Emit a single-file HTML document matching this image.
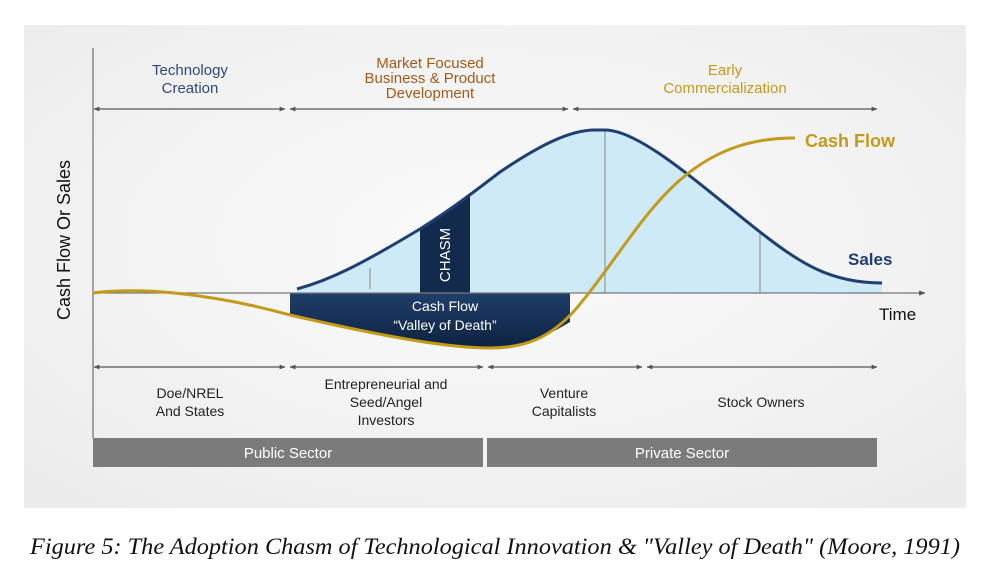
<!DOCTYPE html>
<html><head><meta charset="utf-8"><style>
html,body{margin:0;padding:0;background:#fff;width:996px;height:584px;overflow:hidden}
svg{display:block}
</style></head><body>
<svg width="996" height="584" viewBox="0 0 996 584" xmlns="http://www.w3.org/2000/svg" font-family="Liberation Sans, sans-serif">
<defs>
<radialGradient id="bg" cx="0.5" cy="0.45" r="0.7"><stop offset="0" stop-color="#fbfbfb"/><stop offset="1" stop-color="#ececec"/></radialGradient>
<linearGradient id="vd" x1="0" y1="0" x2="0" y2="1"><stop offset="0" stop-color="#1f3f6a"/><stop offset="1" stop-color="#0d2240"/></linearGradient>
<marker id="ar" viewBox="0 0 10 10" refX="9" refY="5" markerWidth="5" markerHeight="5" orient="auto-start-reverse"><path d="M0,1 L10,5 L0,9z" fill="#555"/></marker>
</defs>
<rect x="24" y="25" width="942" height="483" fill="url(#bg)"/>
<path d="M297,289 C330,280 360,265 420,229 C450,210 470,195 500,172 C540,145 570,130 595,130 L605,130 C640,130 700,185 760,232 C800,263 830,283 882,283 L882,293 L297,293 Z" fill="#cdeaf6"/>
<path d="M420,229 C440,217 455,206 470,195 L470,293 L420,293Z" fill="#122a4c"/>
<line x1="370" y1="268" x2="370" y2="289" stroke="#888" stroke-width="1"/>
<line x1="605" y1="130" x2="605" y2="293" stroke="#888" stroke-width="1"/>
<line x1="760" y1="232" x2="760" y2="293" stroke="#888" stroke-width="1"/>
<path d="M290,293 L570,293 L570,322 C540,340 520,348 490,348 C450,348 390,338 290,315 Z" fill="url(#vd)"/>
<line x1="93" y1="48" x2="93" y2="438" stroke="#777" stroke-width="1.3"/>
<line x1="93" y1="293" x2="925" y2="293" stroke="#777" stroke-width="1.3" marker-end="url(#ar)"/>
<path d="M297,289 C330,280 360,265 420,229 C450,210 470,195 500,172 C540,145 570,130 595,130 L605,130 C640,130 700,185 760,232 C800,263 830,283 882,283" fill="none" stroke="#1f3f73" stroke-width="3"/>
<path d="M93,293 C140,287 210,293 290,315 C390,338 450,348 490,348 C525,348 550,338 575,310 C610,270 640,215 680,180 C720,145 760,138 795,138" fill="none" stroke="#c49a1a" stroke-width="3"/>
<g stroke="#555" stroke-width="1.2" marker-start="url(#ar)" marker-end="url(#ar)">
<line x1="94" y1="109" x2="285" y2="109"/><line x1="290" y1="109" x2="568" y2="109"/><line x1="573" y1="109" x2="877" y2="109"/>
<line x1="94" y1="367" x2="285" y2="367"/><line x1="290" y1="367" x2="483" y2="367"/><line x1="488" y1="367" x2="642" y2="367"/><line x1="647" y1="367" x2="877" y2="367"/>
</g>
<rect x="93" y="438" width="390" height="29" fill="#7b7b7b"/>
<rect x="487" y="438" width="390" height="29" fill="#7b7b7b"/>
<g text-anchor="middle" font-size="14">
<text x="190" y="75" fill="#2a4a7a" font-size="15">Technology</text><text x="190" y="93" fill="#2a4a7a" font-size="15">Creation</text>
<text x="430" y="68" fill="#a55a1a" font-size="15">Market Focused</text><text x="430" y="83" fill="#a55a1a" font-size="15">Business &amp; Product</text><text x="430" y="98" fill="#a55a1a" font-size="15">Development</text>
<text x="725" y="75" fill="#c49a1a" font-size="15">Early</text><text x="725" y="93" fill="#c49a1a" font-size="15">Commercialization</text>
<text x="190" y="398" fill="#222">Doe/NREL</text><text x="190" y="416" fill="#222">And States</text>
<text x="386" y="389" fill="#222">Entrepreneurial and</text><text x="386" y="407" fill="#222">Seed/Angel</text><text x="386" y="425" fill="#222">Investors</text>
<text x="564" y="398" fill="#222">Venture</text><text x="564" y="416" fill="#222">Capitalists</text>
<text x="761" y="407" fill="#222">Stock Owners</text>
<text x="288" y="458" fill="#fff" font-size="15">Public Sector</text>
<text x="682" y="458" fill="#fff" font-size="15">Private Sector</text>
<text x="445" y="311" fill="#fff">Cash Flow</text><text x="445" y="330" fill="#fff">“Valley of Death”</text>
</g>
<text transform="translate(450,255) rotate(-90)" text-anchor="middle" font-size="15" fill="#fff">CHASM</text>
<text transform="translate(70,240) rotate(-90)" text-anchor="middle" font-size="18" fill="#111">Cash Flow Or Sales</text>
<text x="805" y="147" font-size="18" font-weight="bold" fill="#c49a1a">Cash Flow</text>
<text x="848" y="265" font-size="17" font-weight="bold" fill="#1f3f73">Sales</text>
<text x="879" y="320" font-size="17" fill="#111">Time</text>
<text x="30" y="554" font-family="Liberation Serif, serif" font-style="italic" font-size="23" fill="#111" textLength="930" lengthAdjust="spacingAndGlyphs">Figure 5: The Adoption Chasm of Technological Innovation &amp; "Valley of Death" (Moore, 1991)</text>
</svg>
</body></html>
